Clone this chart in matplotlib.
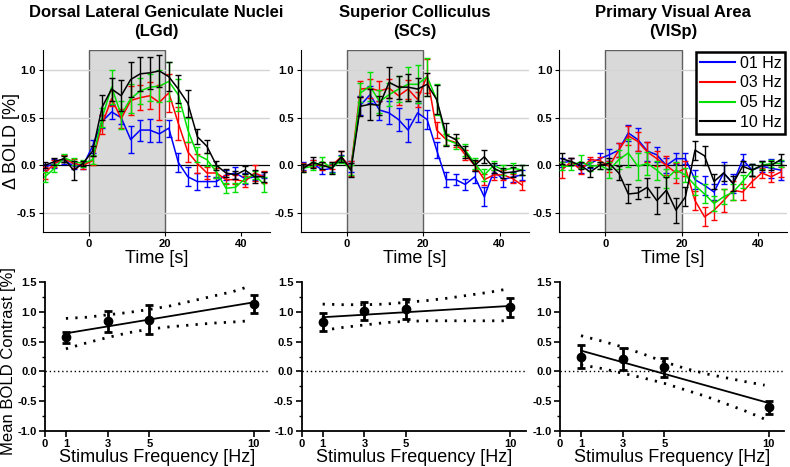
import matplotlib
matplotlib.use('Agg')
import matplotlib.pyplot as plt
from matplotlib.lines import Line2D
from matplotlib.ticker import MultipleLocator

plt.rcParams['font.family'] = ['Liberation Sans', 'DejaVu Sans']

times = [-11.5, -9, -6.5, -4, -1.5, 1, 3.5, 6, 8.5, 11, 13.5, 16,
         18.5, 21, 23.5, 26, 28.5, 31, 33.5, 36, 38.5, 41, 43.5, 46]

labels = ['01 Hz', '03 Hz', '05 Hz', '10 Hz']
colors = ['#0000ff', '#ff0000', '#00e000', '#000000']
titles = ['Dorsal Lateral Geniculate Nuclei\n(LGd)', 'Superior Colliculus\n(SCs)',
          'Primary Visual Area\n(VISp)']

# time courses (mean, sem) per region and frequency
lgd_mean = [
    [-0.02, 0.02, 0.06, -0.01, 0.0, 0.2, 0.46, 0.56, 0.5, 0.27, 0.37, 0.37, 0.33, 0.39, 0.03, -0.12, -0.17, -0.17, -0.17, -0.1, -0.08, -0.14, -0.12, -0.1],
    [-0.08, 0.02, 0.07, 0.02, 0.0, 0.05, 0.43, 0.7, 0.49, 0.68, 0.71, 0.73, 0.66, 0.76, 0.44, 0.14, 0.02, -0.08, -0.08, -0.15, -0.15, -0.17, -0.08, -0.12],
    [-0.12, -0.03, 0.08, 0.04, 0.02, 0.06, 0.5, 0.82, 0.53, 0.7, 0.78, 0.82, 0.83, 0.88, 0.74, 0.37, 0.11, 0.06, -0.07, -0.24, -0.23, -0.14, -0.1, -0.2],
    [0.0, 0.04, 0.07, -0.05, 0.02, 0.15, 0.61, 0.8, 0.73, 0.9, 0.96, 0.97, 0.99, 0.93, 0.8, 0.65, 0.3, 0.2, 0.0, -0.08, -0.1, -0.05, -0.12, -0.12],
]
lgd_err = [
    [0.03, 0.05, 0.05, 0.03, 0.04, 0.07, 0.07, 0.07, 0.07, 0.14, 0.11, 0.12, 0.08, 0.09, 0.1, 0.1, 0.09, 0.06, 0.05, 0.05, 0.06, 0.06, 0.03, 0.03],
    [0.06, 0.04, 0.04, 0.05, 0.04, 0.05, 0.1, 0.08, 0.1, 0.15, 0.13, 0.14, 0.18, 0.2, 0.17, 0.11, 0.1, 0.06, 0.05, 0.05, 0.05, 0.06, 0.08, 0.06],
    [0.05, 0.04, 0.04, 0.04, 0.04, 0.05, 0.1, 0.18, 0.15, 0.15, 0.14, 0.14, 0.17, 0.2, 0.17, 0.13, 0.08, 0.07, 0.06, 0.05, 0.05, 0.05, 0.04, 0.08],
    [0.03, 0.04, 0.03, 0.1, 0.03, 0.05, 0.13, 0.12, 0.16, 0.18, 0.18, 0.17, 0.17, 0.15, 0.15, 0.14, 0.08, 0.07, 0.05, 0.04, 0.04, 0.04, 0.07, 0.05],
]
scs_mean = [
    [-0.01, 0.02, -0.05, -0.03, 0.07, -0.01, 0.63, 0.74, 0.58, 0.55, 0.48, 0.37, 0.55, 0.48, 0.16, -0.15, -0.15, -0.2, -0.12, -0.33, -0.06, -0.15, -0.12, -0.1],
    [-0.02, 0.02, -0.01, 0.0, 0.09, -0.03, 0.8, 0.81, 0.78, 0.81, 0.73, 0.8, 0.69, 0.94, 0.37, 0.27, 0.24, 0.11, 0.0, -0.15, -0.1, -0.1, -0.14, -0.21],
    [-0.03, -0.01, 0.04, -0.03, 0.06, -0.05, 0.76, 0.83, 0.67, 0.74, 0.8, 0.85, 0.85, 0.93, 0.69, 0.27, 0.23, 0.16, 0.02, -0.1, 0.0, -0.05, -0.03, -0.05],
    [-0.03, 0.03, 0.0, -0.03, 0.09, -0.05, 0.62, 0.64, 0.63, 0.87, 0.82, 0.82, 0.8, 0.85, 0.69, 0.32, 0.27, 0.14, 0.0, 0.09, -0.03, -0.08, -0.07, -0.05],
]
scs_err = [
    [0.04, 0.04, 0.04, 0.04, 0.04, 0.06, 0.1, 0.09, 0.1, 0.12, 0.12, 0.12, 0.1, 0.1, 0.08, 0.08, 0.06, 0.06, 0.06, 0.1, 0.06, 0.08, 0.05, 0.05],
    [0.04, 0.04, 0.04, 0.04, 0.06, 0.08, 0.08, 0.1, 0.1, 0.1, 0.1, 0.1, 0.08, 0.18, 0.08, 0.06, 0.05, 0.05, 0.05, 0.06, 0.05, 0.05, 0.05, 0.05],
    [0.04, 0.04, 0.05, 0.05, 0.04, 0.05, 0.1, 0.15, 0.12, 0.12, 0.14, 0.18, 0.2, 0.2, 0.16, 0.06, 0.06, 0.06, 0.06, 0.06, 0.05, 0.05, 0.05, 0.05],
    [0.04, 0.06, 0.04, 0.06, 0.06, 0.07, 0.1, 0.16, 0.1, 0.16, 0.12, 0.14, 0.12, 0.12, 0.15, 0.12, 0.06, 0.06, 0.06, 0.07, 0.05, 0.05, 0.05, 0.05],
]
visp_mean = [
    [0.03, 0.04, -0.03, 0.02, 0.07, 0.11, 0.16, 0.34, 0.27, 0.15, 0.11, 0.0, 0.07, 0.07, -0.15, -0.21, -0.28, -0.08, -0.19, 0.06, -0.05, -0.01, -0.03, -0.05],
    [-0.05, 0.04, -0.05, 0.06, 0.05, -0.01, 0.16, 0.31, 0.25, 0.14, 0.07, 0.0, -0.08, -0.03, -0.37, -0.54, -0.47, -0.37, -0.26, -0.28, -0.17, -0.08, -0.12, -0.07],
    [-0.01, -0.01, 0.04, -0.01, 0.0, -0.05, 0.06, 0.13, -0.01, 0.02, -0.05, -0.14, -0.05, -0.1, -0.21, -0.3, -0.4, -0.33, -0.28, -0.17, -0.05, 0.0, 0.02, 0.02],
    [0.07, 0.04, 0.0, -0.07, 0.0, 0.02, -0.08, -0.3, -0.29, -0.23, -0.37, -0.26, -0.47, -0.33, 0.16, 0.1, -0.17, -0.08, -0.19, -0.01, -0.05, 0.0, 0.0, 0.06],
]
visp_err = [
    [0.05, 0.04, 0.05, 0.05, 0.06, 0.06, 0.07, 0.08, 0.12, 0.1, 0.08, 0.08, 0.06, 0.06, 0.1, 0.1, 0.08, 0.12, 0.1, 0.06, 0.06, 0.06, 0.1, 0.1],
    [0.08, 0.04, 0.04, 0.03, 0.04, 0.06, 0.07, 0.1, 0.1, 0.1, 0.08, 0.1, 0.1, 0.08, 0.1, 0.1, 0.1, 0.12, 0.1, 0.08, 0.06, 0.05, 0.05, 0.05],
    [0.04, 0.04, 0.07, 0.05, 0.04, 0.08, 0.1, 0.15, 0.14, 0.12, 0.1, 0.1, 0.08, 0.07, 0.1, 0.1, 0.08, 0.08, 0.08, 0.07, 0.06, 0.04, 0.04, 0.04],
    [0.06, 0.04, 0.04, 0.05, 0.04, 0.06, 0.07, 0.1, 0.06, 0.1, 0.14, 0.14, 0.13, 0.1, 0.1, 0.1, 0.08, 0.08, 0.08, 0.06, 0.06, 0.05, 0.05, 0.06],
]

# mean contrast vs stimulus frequency
freqs = [1, 3, 5, 10]
lgd_pts = [0.57, 0.84, 0.87, 1.13]
lgd_pts_err = [0.1, 0.17, 0.24, 0.15]
scs_pts = [0.83, 1.02, 1.05, 1.08]
scs_pts_err = [0.15, 0.15, 0.17, 0.16]
visp_pts = [0.25, 0.21, 0.07, -0.6]
visp_pts_err = [0.19, 0.18, 0.16, 0.11]

fit_x = [1, 10]
lgd_fit = [0.64, 1.16]
scs_fit = [0.91, 1.10]
visp_fit = [0.35, -0.53]

band_x = [1, 2, 3, 4, 5, 6, 7, 8, 9, 9.8]
lgd_hi = [0.89, 0.91, 0.95, 0.99, 1.04, 1.10, 1.18, 1.26, 1.34, 1.43]
lgd_lo = [0.38, 0.48, 0.57, 0.65, 0.71, 0.75, 0.78, 0.81, 0.83, 0.85]
scs_hi = [1.13, 1.12, 1.12, 1.13, 1.16, 1.19, 1.23, 1.28, 1.33, 1.38]
scs_lo = [0.69, 0.74, 0.78, 0.82, 0.84, 0.85, 0.85, 0.85, 0.85, 0.85]
visp_hi = [0.60, 0.51, 0.41, 0.29, 0.16, 0.05, -0.04, -0.11, -0.18, -0.23]
visp_lo = [0.11, 0.05, -0.03, -0.11, -0.20, -0.31, -0.42, -0.55, -0.68, -0.80]

means = [lgd_mean, scs_mean, visp_mean]
errs = [lgd_err, scs_err, visp_err]
pts = [lgd_pts, scs_pts, visp_pts]
pts_err = [lgd_pts_err, scs_pts_err, visp_pts_err]
fits = [lgd_fit, scs_fit, visp_fit]
his = [lgd_hi, scs_hi, visp_hi]
los = [lgd_lo, scs_lo, visp_lo]

fig = plt.figure(figsize=(7.9, 4.67), dpi=100)

top_left = [0.054, 0.381, 0.708]
bot_left = [0.057, 0.382, 0.709]

for i in range(3):
    ax = fig.add_axes([top_left[i], 0.503, 0.288, 0.39])
    ax.axvspan(0, 20, facecolor='#d9d9d9', edgecolor='#606060', lw=1, zorder=0)
    for g in [1.0, 0.5, -0.5]:
        ax.axhline(g, color='#d4d4d4', lw=1, zorder=0.5)
    ax.axhline(0, color='black', lw=0.9, zorder=1)
    for j in range(4):
        ax.errorbar(times, means[i][j], yerr=errs[i][j], color=colors[j], lw=1.1,
                    elinewidth=1, capsize=2.5, capthick=1, zorder=2 + j)
    ax.set_xlim(-12.1, 47.6)
    ax.set_ylim(-0.7, 1.21)
    ax.set_xticks([0, 20, 40])
    ax.set_yticks([-0.5, 0.0, 0.5, 1.0])
    ax.set_yticklabels(['-0.5', '0.0', '0.5', '1.0'])
    for s in ['top', 'right']:
        ax.spines[s].set_visible(False)
    ax.tick_params(labelsize=8, length=3, pad=2)
    for lab in ax.get_xticklabels() + ax.get_yticklabels():
        lab.set_fontweight('bold')
    ax.set_xlabel('Time [s]', fontsize=13, labelpad=1)
    ax.set_title(titles[i], fontsize=12, fontweight='bold', pad=10, linespacing=1.35)
    if i == 0:
        ax.set_ylabel('Δ BOLD [%]', fontsize=13)
        ax.yaxis.set_label_coords(-0.1, 0.5)
    if i == 2:
        handles = [Line2D([], [], color=c, lw=1.5) for c in colors]
        leg = ax.legend(handles, labels, loc='upper right', fontsize=11.5, frameon=True,
                        fancybox=False, handlelength=2.2, handletextpad=0.3,
                        labelspacing=0.3, borderpad=0.25, borderaxespad=0.1)
        leg.get_frame().set_edgecolor('black')
        leg.get_frame().set_linewidth(1.8)
        leg.get_frame().set_alpha(1)
        leg.set_zorder(10)

    bx = fig.add_axes([bot_left[i], 0.077, 0.284, 0.319])
    bx.axhline(0, color='black', lw=1, ls=(0, (1, 2)))
    bx.plot(band_x, his[i], color='black', lw=2, ls=(0, (0.8, 2.6)))
    bx.plot(band_x, los[i], color='black', lw=2, ls=(0, (0.8, 2.6)))
    bx.plot(fit_x, fits[i], color='black', lw=1.3)
    bx.errorbar(freqs, pts[i], yerr=pts_err[i], fmt='o', color='black', ms=6,
                elinewidth=2, capsize=3, capthick=2)
    bx.set_xlim(0, 10.75)
    bx.set_ylim(-1.0, 1.5)
    bx.set_xticks([0, 1, 3, 5, 10])
    bx.set_yticks([-1.0, -0.5, 0.0, 0.5, 1.0, 1.5])
    bx.set_yticklabels(['-1.0', '-0.5', '0.0', '0.5', '1.0', '1.5'])
    bx.yaxis.set_minor_locator(MultipleLocator(0.25))
    for s in ['top', 'right']:
        bx.spines[s].set_visible(False)
    bx.spines['left'].set_linewidth(1.3)
    bx.spines['bottom'].set_linewidth(1.3)
    bx.tick_params(labelsize=8, length=4, width=1.2, pad=2)
    bx.tick_params(which='minor', length=2.5, width=1)
    for lab in bx.get_xticklabels() + bx.get_yticklabels():
        lab.set_fontweight('bold')
    bx.set_xlabel('Stimulus Frequency [Hz]', fontsize=13, labelpad=0)
    if i == 0:
        bx.set_ylabel('Mean BOLD Contrast [%]', fontsize=12)
        bx.yaxis.set_label_coords(-0.128, 0.47)

fig.savefig('out.png', dpi=100)
